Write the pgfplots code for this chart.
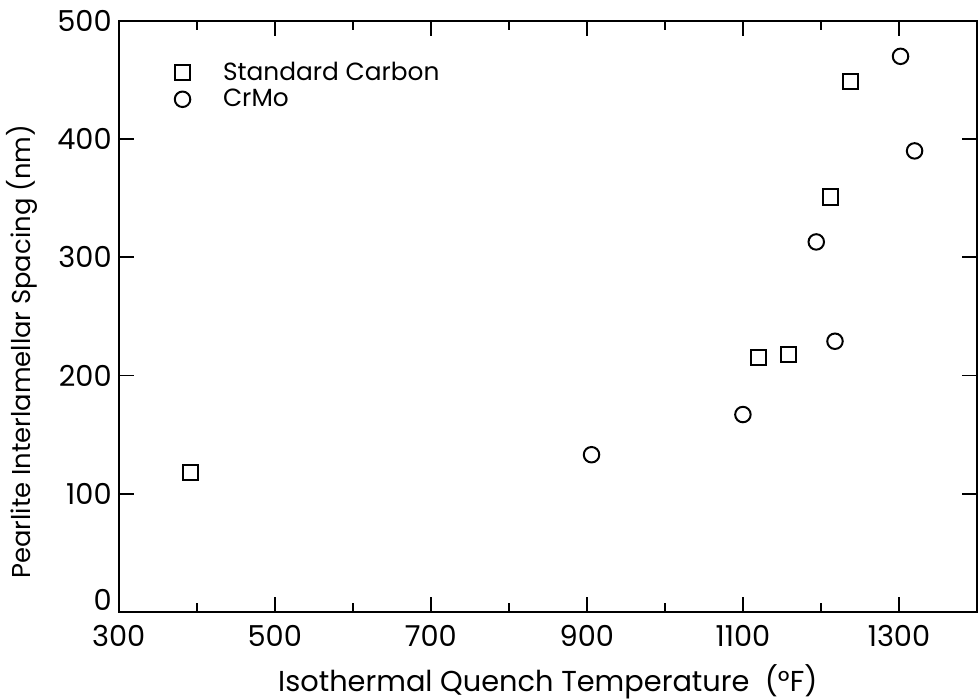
\documentclass[border=0pt]{standalone}
\usepackage{pgfplots}
\pgfplotsset{compat=1.18}
\usepackage{fontspec}
\setmainfont{Poppins}
\begin{document}
\begin{tikzpicture}
\begin{axis}[
  scale only axis,
  width=432pt, height=297.5pt,
  xmin=300, xmax=1400, ymin=0, ymax=500,
  xtick={300,500,...,1300},
  minor x tick num=1,
  ytick={100,200,...,500},
  extra y ticks={0},
  extra y tick style={yticklabel style={yshift=6pt}},
  tick align=inside,
  major tick length=7.5pt,
  minor tick length=4.5pt,
  axis line style={line width=1pt},
  every tick/.style={black, line width=0.9pt},
  /pgf/number format/assume math mode=true,
  /pgf/number format/1000 sep={},
  tick label style={font=\fontsize{14.5}{16}\selectfont},
  xticklabel style={yshift=-3pt},
  xlabel={Isothermal Quench Temperature \ (°F)},
  ylabel={Pearlite Interlamellar Spacing (nm)},
  xlabel style={font=\fontsize{14.5}{17}\selectfont, inner sep=0pt, yshift=-5.5pt},
  ylabel style={font=\fontsize{13}{16}\selectfont, at={(ticklabel cs:0.44)}, yshift=3pt},
  legend style={draw=none, fill=none, at={(0.058,0.945)}, anchor=north west,
    font=\fontsize{12.5}{14}\selectfont, row sep=-1pt},
  legend cell align=left,
]
\addplot[only marks, mark=square, mark size=3.8pt, line width=1pt, black]
  coordinates {(392,118) (1120,215) (1158,218) (1212,351) (1238,449)};
\addlegendentry{\hspace{14.5pt}Standard Carbon}
\addplot[only marks, mark=o, mark size=3.9pt, line width=1pt, black]
  coordinates {(906,133) (1100,167) (1194,313) (1218,229) (1302,470) (1320,390)};
\addlegendentry{\hspace{14.5pt}CrMo}
\end{axis}
\path (current axis.north west) ++(0,10.5pt);
\end{tikzpicture}
\end{document}
